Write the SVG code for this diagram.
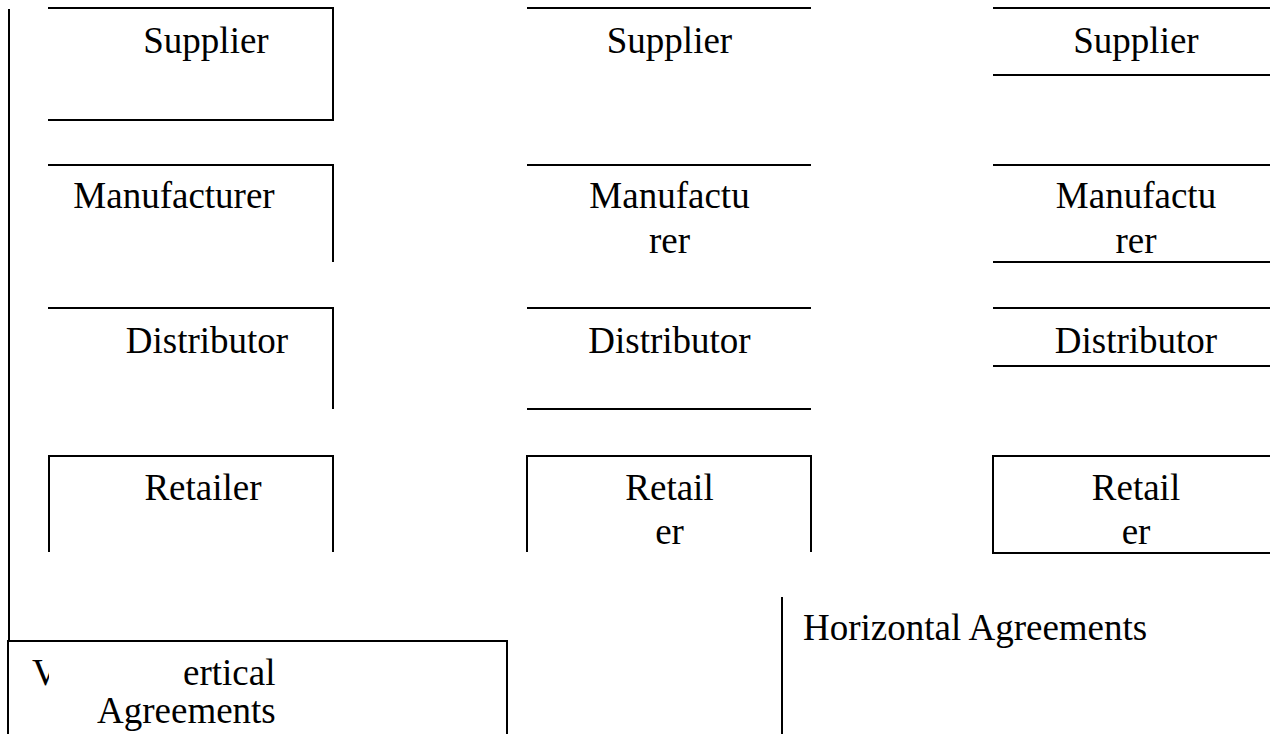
<svg xmlns="http://www.w3.org/2000/svg" width="1270" height="734" viewBox="0 0 1270 734">
<style>
.l{stroke:#000;stroke-width:2;fill:none}
.t{font-family:"Liberation Serif","Times New Roman",serif;font-size:37px;fill:#000;text-anchor:middle}
.s{text-anchor:start}
</style>
<defs>
<clipPath id="vclip"><rect x="20" y="650" width="29" height="50"/></clipPath>
</defs>
<rect width="1270" height="734" fill="#fff"/>
<g id="connectors">
<path class="l" d="M9 9V641"/>
<path class="l" d="M782 597V734"/>
</g>
<g id="supplier1"><path class="l" d="M48 8H333V120H48"/><text class="t" x="206" y="53">Supplier</text></g>
<g id="manufacturer1"><path class="l" d="M48 165H333V262"/><text class="t" x="174" y="208">Manufacturer</text></g>
<g id="distributor1"><path class="l" d="M48 308H333V409"/><text class="t" x="207" y="353">Distributor</text></g>
<g id="retailer1"><path class="l" d="M49 552V456H333V552"/><text class="t" x="203" y="500">Retailer</text></g>
<g id="supplier2"><path class="l" d="M527 8H811"/><text class="t" x="669.5" y="53">Supplier</text></g>
<g id="manufacturer2"><path class="l" d="M527 165H811"/><text class="t" x="669.5" y="208">Manufactu</text><text class="t" x="669.5" y="253">rer</text></g>
<g id="distributor2"><path class="l" d="M527 308H811M527 409H811"/><text class="t" x="669.5" y="353">Distributor</text></g>
<g id="retailer2"><path class="l" d="M527 552V456H811V552"/><text class="t" x="669.5" y="500">Retail</text><text class="t" x="669.5" y="544">er</text></g>
<g id="supplier3"><path class="l" d="M993 8H1270M993 75H1270"/><text class="t" x="1136" y="53">Supplier</text></g>
<g id="manufacturer3"><path class="l" d="M993 165H1270M993 262H1270"/><text class="t" x="1136" y="208">Manufactu</text><text class="t" x="1136" y="253">rer</text></g>
<g id="distributor3"><path class="l" d="M993 308H1270M993 366H1270"/><text class="t" x="1136" y="353">Distributor</text></g>
<g id="retailer3"><path class="l" d="M1270 456H993V553H1270"/><text class="t" x="1136" y="500">Retail</text><text class="t" x="1136" y="544">er</text></g>
<g id="vertical"><path class="l" d="M8 734V641H507V734"/>
<text class="t s" x="32" y="685" clip-path="url(#vclip)">V</text>
<text class="t s" x="183" y="685">ertical</text>
<text class="t s" x="97" y="723">Agreements</text></g>
<g id="horizontal"><text class="t s" x="803" y="640">Horizontal Agreements</text></g>
</svg>
